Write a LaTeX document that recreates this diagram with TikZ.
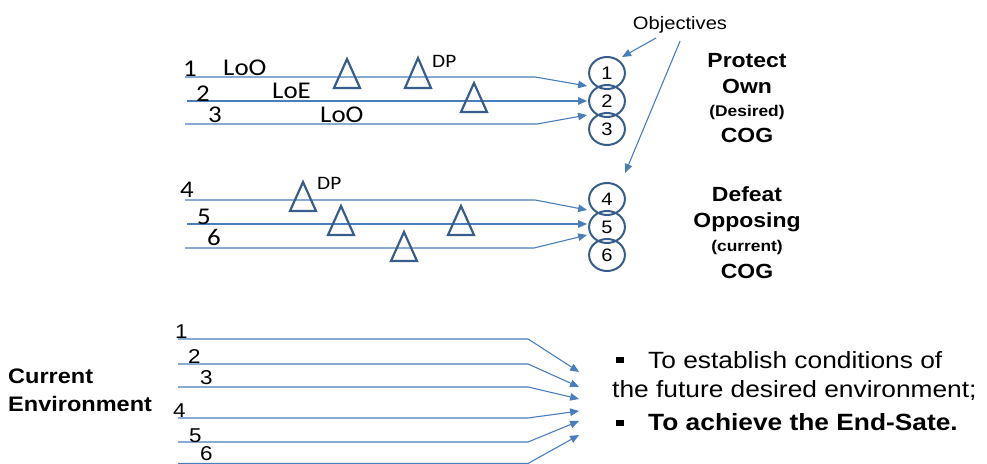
\documentclass[tikz,border=0pt]{standalone}
\usepackage{fontspec}
\setmainfont{Liberation Sans}
\newfontfamily\calib{Carlito}
\usetikzlibrary{arrows.meta,calc}
\definecolor{lineblue}{RGB}{74,126,187}
\definecolor{shapeblue}{RGB}{56,93,138}
\begin{document}
\begin{tikzpicture}[x=0.8929pt,y=-1pt,xscale=1.12,
  every node/.append style={transform shape, inner sep=0pt},
  ln/.style={draw=lineblue, line width=1.1pt},
  arr/.style={ln, -{Triangle[length=9pt,width=7.5pt]}},
  tri/.style={draw=shapeblue, line width=2.2pt, line join=miter},
  obj/.style={circle, draw=shapeblue, line width=2pt, minimum size=32pt, font=\fontsize{18}{18}\selectfont},
  lbl/.style={anchor=base west, font=\calib\fontsize{24}{24}\selectfont},
  dp/.style={anchor=base west, font=\calib\fontsize{19}{19}\selectfont},
  num/.style={anchor=base west, font=\fontsize{20}{20}\selectfont},
  ttl/.style={anchor=base, font=\bfseries\fontsize{20.5}{20.5}\selectfont},
  sub/.style={anchor=base, font=\bfseries\fontsize{15.5}{15.5}\selectfont},
  bul/.style={anchor=base west, font=\fontsize{23.5}{23.5}\selectfont},
  sq/.style={rectangle, fill=black, minimum size=6.5pt},
]
\useasboundingbox (0,0) rectangle (987,464);

% objectives circles
\node[obj] (c1) at (607,73) {1};
\node[obj] (c2) at (607,101) {2};
\node[obj] (c3) at (607,129) {3};
\node[obj] (c4) at (607,199) {4};
\node[obj] (c5) at (607,227) {5};
\node[obj] (c6) at (607,255) {6};

% top group lines
\coordinate (s1) at (185,77);  \coordinate (b1) at (535,77);
\coordinate (s2) at (187,101);
\coordinate (s3) at (185,124); \coordinate (b3) at (537,124);
\draw[arr] (s1) -- (b1) -- ($(c2.center)+(-20,-15)$);
\draw[arr] (s2) -- ($(c2.center)+(-20,0)$);
\draw[arr] (s3) -- (b3) -- ($(c2.center)+(-20,14)$);

\draw[tri] (334,88) -- (347,59) -- (360,88) -- cycle;
\draw[tri] (405,88) -- (418,58) -- (431,88) -- cycle;
\draw[tri] (461,112) -- (474,83) -- (487,112) -- cycle;

\node[lbl] (n1) at (183,76) {1};
\node[lbl] (loo1) at (223,75) {LoO};
\node[lbl] (n2) at (196,101) {2};
\node[lbl] (loe) at (272,98) {LoE};
\node[lbl] (n3) at (208,122) {3};
\node[lbl] (loo2) at (320,122) {LoO};
\node[dp] (dp1) at (432,67) {DP};

% middle group lines
\coordinate (s4) at (185,200); \coordinate (b4) at (535,200);
\coordinate (s5) at (187,224);
\coordinate (s6) at (185,248); \coordinate (b6) at (534,248);
\draw[arr] (s4) -- (b4) -- ($(c5.center)+(-20,-17)$);
\draw[arr] (s5) -- ($(c5.center)+(-20,-3)$);
\draw[arr] (s6) -- (b6) -- ($(c5.center)+(-20,8)$);

\draw[tri] (290,211) -- (303,182) -- (316,211) -- cycle;
\draw[tri] (328,235) -- (341,206) -- (354,235) -- cycle;
\draw[tri] (448,235) -- (461,206) -- (474,235) -- cycle;
\draw[tri] (391,261) -- (404,232) -- (417,261) -- cycle;

\node[lbl] (n4) at (180,198) {4};
\node[lbl] (n5) at (197,225) {5};
\node[lbl] (n6) at (207,246) {6};
\node[dp] (dp2) at (317,190) {DP};

% objectives label
\node[anchor=base, font=\fontsize{18}{18}\selectfont] (objt) at (680,29) {Objectives};
\draw[arr] ($(objt.south)+(-24,5)$) -- ($(c1.center)+(15,-16)$);
\draw[arr] ($(objt.south)+(0,8)$) -- ($(c4.center)+(18,-26)$);

% right titles
\node[ttl] (p1) at (747,67) {Protect};
\node[ttl] (p2) at (747,93) {Own};
\node[sub] (p3) at (747,117) {(Desired)};
\node[ttl] (p4) at (747,143) {COG};
\node[ttl] (d1) at (747,202) {Defeat};
\node[ttl] (d2) at (747,228) {Opposing};
\node[sub] (d3) at (747,252) {(current)};
\node[ttl] (d4) at (747,279) {COG};

% bottom group
\node[anchor=base west, font=\bfseries\fontsize{21}{21}\selectfont] (ce1) at (8,384) {Current};
\node[anchor=base west, font=\bfseries\fontsize{21}{21}\selectfont] (ce2) at (8,412) {Environment};

\coordinate (e1) at (178,339); \coordinate (f1) at (528,339); \coordinate (t1) at (579,372);
\coordinate (e2) at (178,364); \coordinate (f2) at (528,364); \coordinate (t2) at (579,387);
\coordinate (e3) at (178,387); \coordinate (f3) at (528,387); \coordinate (t3) at (579,399);
\coordinate (e4) at (178,418); \coordinate (f4) at (528,418); \coordinate (t4) at (579,411);
\coordinate (e5) at (178,442); \coordinate (f5) at (528,442); \coordinate (t5) at (579,421);
\coordinate (e6) at (178,463.5); \coordinate (f6) at (528,463.5); \coordinate (t6) at (579,435);
\foreach \i in {1,...,6} {\draw[arr] (e\i) -- (f\i) -- (t\i);}

\node[num] (m1) at (175,339) {1};
\node[num] (m2) at (188,364) {2};
\node[num] (m3) at (200,385) {3};
\node[num] (m4) at (173,418) {4};
\node[num] (m5) at (189,443) {5};
\node[num] (m6) at (200,461) {6};

% bullets
\node[sq] (q1) at (620,360) {};
\node[bul] (b1t) at (648,369) {To establish conditions of};
\node[bul] (b2t) at (612,398) {the future desired environment;};
\node[sq] (q2) at (620,423) {};
\node[bul, font=\bfseries\fontsize{23.5}{23.5}\selectfont] (b3t) at (648,431) {To achieve the End-Sate.};
\end{tikzpicture}
\end{document}
